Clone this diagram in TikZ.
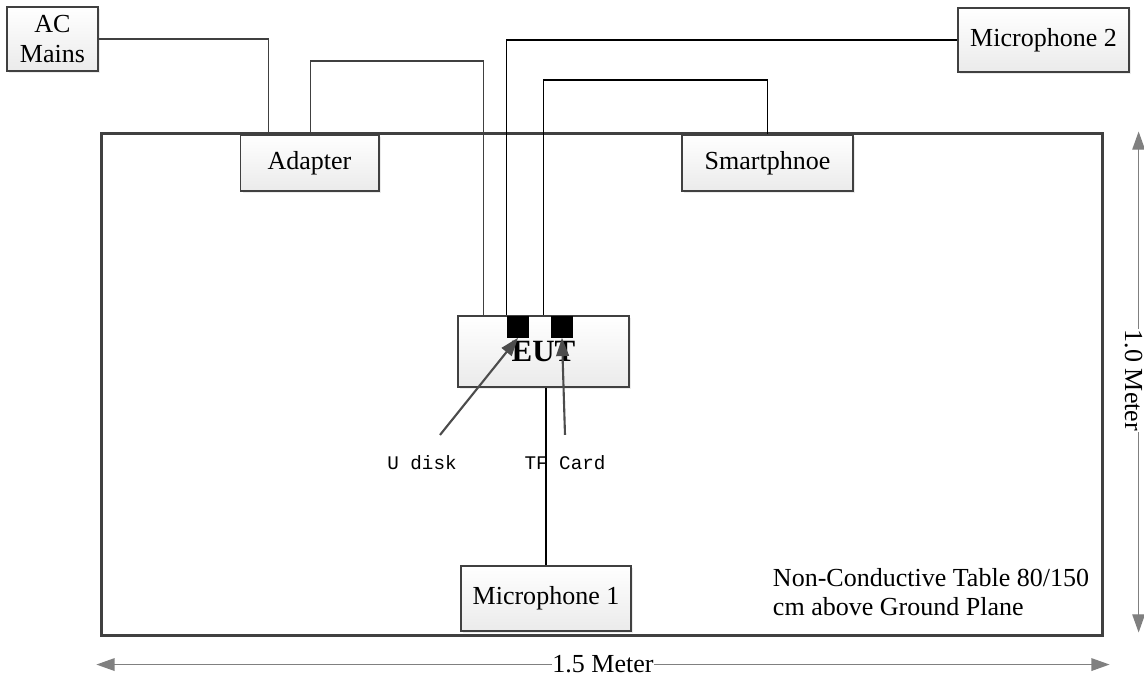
\documentclass[tikz,border=0pt]{standalone}
\usepackage{fontspec}
\setmainfont{Liberation Serif}
\newfontfamily\monofont{Liberation Mono}
\usepackage{tikz}
\usetikzlibrary{arrows.meta,shapes,positioning,shadows}
\usepackage{xcolor}
\definecolor{boxgray}{RGB}{64,64,64}
\definecolor{dimgray}{RGB}{128,128,128}
\tikzstyle{box} = [rectangle, draw=boxgray, line width=1.4pt, top color=white, bottom color=black!8, drop shadow={shadow xshift=1.5pt, shadow yshift=-1.5pt, fill=black!15}, font=\fontsize{18.5}{21}\selectfont, align=center, inner sep=0pt]
\tikzstyle{port} = [rectangle, fill=black, minimum size=0.55cm, inner sep=0pt]
\tikzstyle{power} = [line width=1.4pt, color=boxgray]
\tikzstyle{wire} = [line width=1.1pt, color=black]
\tikzstyle{pointer} = [line width=1.5pt, -{Triangle[length=13pt,width=9pt]}, color=black!70]
\tikzstyle{dimline} = [line width=1pt, {Triangle[length=13pt,width=9pt]}-{Triangle[length=13pt,width=9pt]}, color=dimgray]
\tikzstyle{dimlabel} = [fill=white, inner sep=0.5pt, text=black, font=\fontsize{18.5}{21}\selectfont]

\begin{document}
\begin{tikzpicture}[x=0.025cm, y=-0.025cm]
    \useasboundingbox (0,0) rectangle (1144,678);

    % Table
    \node[rectangle, draw=boxgray, line width=2.1pt, minimum width=25cm, minimum height=12.525cm, inner sep=0pt, drop shadow={shadow xshift=1.5pt, shadow yshift=-1.5pt, fill=black!15}, fill=white] (tb) at (602, 384.5) {};
    \node[anchor=north west, align=left, font=\fontsize{18.5}{21}\selectfont] (note) at (768, 563) {Non-Conductive Table 80/150\\cm above Ground Plane};

    % Boxes
    \node[box, minimum width=2.275cm, minimum height=1.6cm] (ac) at (52.5, 39) {AC\\Mains};
    \node[box, minimum width=3.45cm, minimum height=1.4cm] (ad) at (309.5, 163) {Adapter};
    \node[box, minimum width=4.275cm, minimum height=1.4cm] (sp) at (767.5, 163) {Smartphnoe};
    \node[box, minimum width=4.275cm, minimum height=1.6cm] (m2) at (1043.5, 40) {Microphone 2};
    \node[box, minimum width=4.275cm, minimum height=1.775cm, font=\fontsize{22}{26}\selectfont\bfseries] (eut) at (543.5, 351.5) {EUT};
    \node[box, minimum width=4.25cm, minimum height=1.625cm] (m1) at (546, 598.5) {Microphone 1};

    % Ports
    \node[port] (ud) at (518, 326.5) {};
    \node[port] (tf) at (562, 326.5) {};

    % Cables
    \draw[power] (ac.east) -| ([xshift=-1.025cm]ad.north);
    \draw[power] ([xshift=0.025cm]ad.north) -- ++(0,-73) -| ([xshift=-1.5cm]eut.north);
    \draw[wire] (m2.west) -| (ud.north west);
    \draw[wire] (sp.north) -- ++(0,-54) -| (eut.north);

    % Port labels
    \node[font=\monofont\fontsize{13.7}{16}\selectfont] (udl) at (422, 463) {U disk};
    \node[font=\monofont\fontsize{13.7}{16}\selectfont] (tfl) at (565, 463) {TF Card};
    \draw[pointer] ([xshift=0.45cm, yshift=0.4cm]udl.north) -- (ud.south);
    \draw[pointer] ([yshift=0.4cm]tfl.north) -- (tf.south);

    \draw[wire] ([xshift=0.06cm]eut.south) -- ([xshift=0.06cm]eut.south |- m1.north);

    % Dimensions
    \draw[dimline] ([xshift=0.875cm, yshift=0.025cm]tb.north east) -- ([xshift=0.875cm, yshift=0.1cm]tb.south east);
    \node[dimlabel, rotate=-90, anchor=base] (dv) at ([xshift=0.54cm, yshift=0.1cm]tb.east) {1.0 Meter};
    \draw[dimline] ([xshift=-0.1cm, yshift=-0.7cm]tb.south west) -- node[dimlabel] (dh) {1.5 Meter} ([xshift=0.15cm, yshift=-0.7cm]tb.south east);
\end{tikzpicture}
\end{document}
